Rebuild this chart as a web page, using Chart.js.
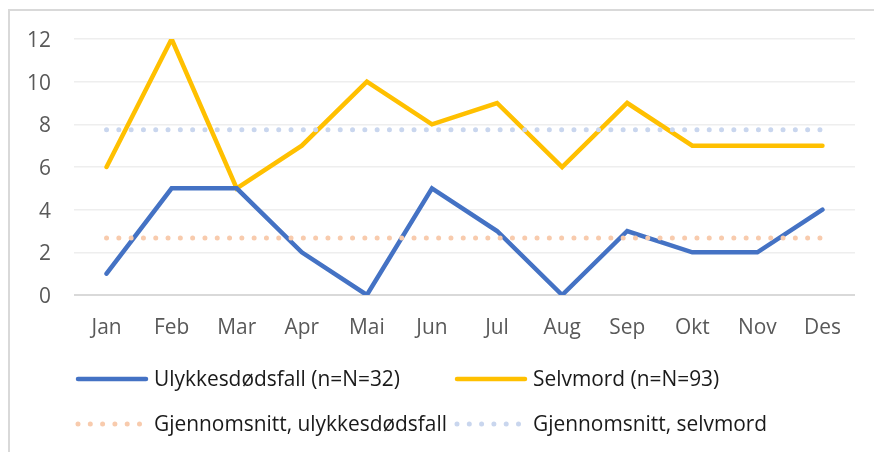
<!DOCTYPE html>
<html>
<head>
<meta charset="utf-8">
<script src="https://cdn.jsdelivr.net/npm/chart.js@4.4.1/dist/chart.umd.min.js"></script>
<style>
  html, body { margin: 0; padding: 0; background: #fff; overflow: hidden; }
  #wrap { position: relative; width: 874px; height: 452px; }
  #frame { position: absolute; left: 8px; top: 9px; width: 900px; height: 500px; border: 2px solid #d9d9d9; box-sizing: border-box; pointer-events: none; }
</style>
</head>
<body>
<div id="wrap">
  <canvas id="c" width="874" height="452"></canvas>
  <div id="frame"></div>
</div>
<script>
const months = ['Jan','Feb','Mar','Apr','Mai','Jun','Jul','Aug','Sep','Okt','Nov','Des'];
const accidents = [1,5,5,2,0,5,3,0,3,2,2,4];
const suicides = [6,12,5,7,10,8,9,6,9,7,7,7];
const avgAccidents = [2.67,2.67,2.67,2.67,2.67,2.67,2.67,2.67,2.67,2.67,2.67,2.67];
const avgSuicides = [7.75,7.75,7.75,7.75,7.75,7.75,7.75,7.75,7.75,7.75,7.75,7.75];
const seriesLabels = ['Ulykkesdødsfall (n=N=32)','Selvmord (n=N=93)','Gjennomsnitt, ulykkesdødsfall','Gjennomsnitt, selvmord'];
const yTicks = [0,2,4,6,8,10,12];

const FONT = 'Open Sans';
const FSIZE = 20.9;

const legendPlugin = {
  id: 'customLegend',
  afterLayout(chart) {
    const s = chart.scales.y;
    if (!s._shifted) {
      const orig = s.drawLabels.bind(s);
      s.drawLabels = function(area) {
        const ctx = chart.ctx;
        ctx.save();
        ctx.translate(0, 2);
        orig(area);
        ctx.restore();
      };
      s._shifted = true;
    }
  },
  afterDraw(chart) {
    const ctx = chart.ctx;
    const items = [
      {ds: 0, x: 76, y: 379},
      {ds: 1, x: 455, y: 379},
      {ds: 2, x: 76, y: 424},
      {ds: 3, x: 455, y: 424}
    ];
    ctx.save();
    items.forEach(it => {
      const d = chart.data.datasets[it.ds];
      ctx.beginPath();
      ctx.strokeStyle = d.borderColor;
      ctx.lineWidth = d.borderWidth;
      ctx.lineCap = 'round';
      ctx.setLineDash(d.borderDash || []);
      ctx.moveTo(it.x + 2, it.y);
      ctx.lineTo(it.x + 70, it.y);
      ctx.stroke();
      ctx.setLineDash([]);
      ctx.fillStyle = '#1a1a1a';
      ctx.font = FSIZE + 'px "' + FONT + '"';
      ctx.textBaseline = 'middle';
      ctx.textAlign = 'left';
      ctx.fillText(d.label, it.x + 78, it.y + 1.5);
    });
    ctx.restore();
  }
};

new Chart(document.getElementById('c'), {
  type: 'line',
  data: {
    labels: months,
    datasets: [
      { label: seriesLabels[0], data: accidents, borderColor: '#4472C4', borderWidth: 4.5, pointRadius: 0, tension: 0, borderCapStyle: 'round', borderJoinStyle: 'miter', order: 2 },
      { label: seriesLabels[1], data: suicides, borderColor: '#FFC000', borderWidth: 4.5, pointRadius: 0, tension: 0, borderCapStyle: 'round', borderJoinStyle: 'miter', order: 2 },
      { label: seriesLabels[2], data: avgAccidents, borderColor: '#F8CBAD', borderWidth: 5, borderDash: [0, 12.3], borderCapStyle: 'round', pointRadius: 0, order: 1 },
      { label: seriesLabels[3], data: avgSuicides, borderColor: '#C9D6EE', borderWidth: 5, borderDash: [0, 12.3], borderCapStyle: 'round', pointRadius: 0, order: 1 }
    ]
  },
  options: {
    responsive: false,
    animation: false,
    events: [],
    layout: { padding: { top: 39, right: 19, left: 0, bottom: 107 } },
    plugins: { legend: { display: false }, tooltip: { enabled: false } },
    scales: {
      x: {
        offset: true,
        grid: { display: false, drawTicks: false },
        border: { display: false },
        ticks: { color: '#595959', font: { family: FONT, size: FSIZE }, padding: 21, maxRotation: 0 },
        afterFit(s) { s.height = 50; }
      },
      y: {
        min: 0, max: 12,
        afterBuildTicks(s) { s.ticks = yTicks.map(v => ({ value: v })); },
        grid: {
          drawTicks: false,
          color: c => (c.tick && c.tick.value === 0) ? '#d9d9d9' : '#eeeeee',
          lineWidth: c => (c.tick && c.tick.value === 0) ? 2 : 1.5
        },
        border: { display: false },
        ticks: { color: '#595959', font: { family: FONT, size: FSIZE }, padding: 23 },
        afterFit(s) { s.width = 74; }
      }
    }
  },
  plugins: [legendPlugin]
});
</script>
</body>
</html>
